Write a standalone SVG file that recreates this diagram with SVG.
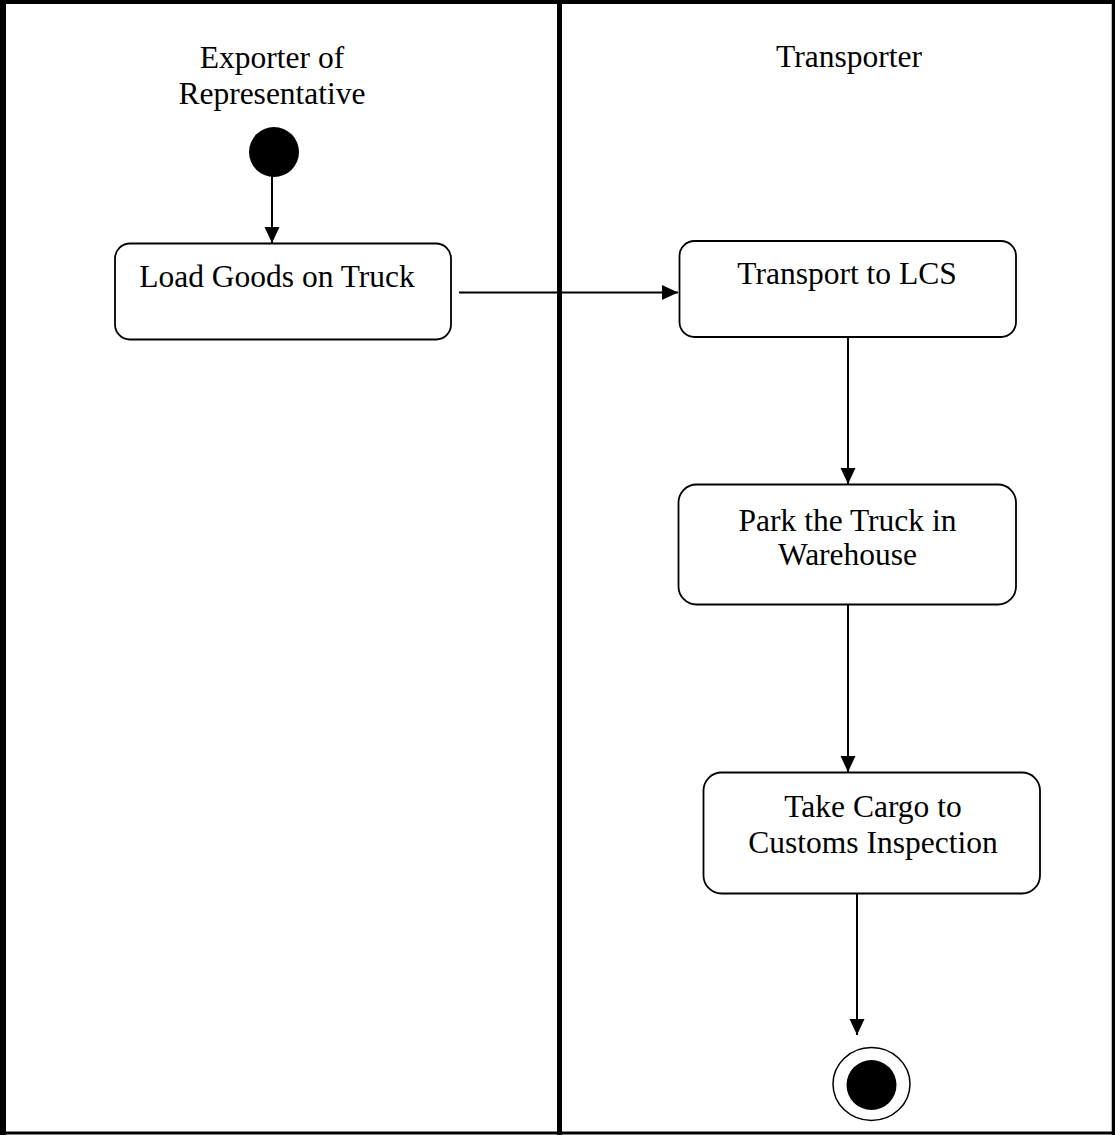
<svg xmlns="http://www.w3.org/2000/svg" width="1115" height="1135" viewBox="0 0 1115 1135">
  <style>
    .lane { stroke: #000; fill: none; }
    .box { fill: #fff; stroke: #000; stroke-width: 1.8; }
    .label { font-family: "Liberation Serif", "Times New Roman", serif; font-size: 31.5px; fill: #000; text-anchor: middle; }
    .flow { stroke: #000; stroke-width: 2; fill: none; marker-end: url(#arrow); }
  </style>
  <defs>
    <marker id="arrow" markerUnits="userSpaceOnUse" markerWidth="16" markerHeight="16" viewBox="0 0 16 16" refX="16" refY="8" orient="auto">
      <path d="M0,0.5 L16,8 L0,15.5 Z" fill="#000"/>
    </marker>
  </defs>

  <rect width="1115" height="1135" fill="#fff"/>

  <!-- swimlane frame -->
  <g id="lanes">
    <line class="lane" x1="0" y1="2" x2="1115" y2="2" stroke-width="4"/>
    <line class="lane" x1="3" y1="0" x2="3" y2="1135" stroke-width="6"/>
    <line class="lane" x1="1113.5" y1="0" x2="1113.5" y2="1135" stroke-width="3.5"/>
    <line class="lane" x1="0" y1="1133" x2="1115" y2="1133" stroke-width="3"/>
    <line class="lane" x1="559.5" y1="0" x2="559.5" y2="1135" stroke-width="5"/>
    <text class="label" x="272" y="68">Exporter of</text>
    <text class="label" x="272" y="104">Representative</text>
    <text class="label" x="849" y="67">Transporter</text>
  </g>

  <!-- connectors -->
  <g id="connectors">
    <line class="flow" x1="272" y1="176" x2="272" y2="243"/>
    <line class="flow" x1="459" y1="292.5" x2="678" y2="292.5"/>
    <line class="flow" x1="848" y1="338" x2="848" y2="484"/>
    <line class="flow" x1="848" y1="605" x2="848" y2="772"/>
    <line class="flow" x1="857" y1="894" x2="857" y2="1035"/>
  </g>

  <g id="start">
    <circle cx="274" cy="152" r="25" fill="#000"/>
  </g>

  <g id="load-goods">
    <rect class="box" x="115" y="243.5" width="336" height="96" rx="15"/>
    <text class="label" x="277" y="287">Load Goods on Truck</text>
  </g>

  <g id="transport-lcs">
    <rect class="box" x="679.5" y="241" width="336.5" height="96" rx="15"/>
    <text class="label" x="847" y="284">Transport to LCS</text>
  </g>

  <g id="park-truck">
    <rect class="box" x="678.5" y="484.5" width="337.5" height="120" rx="18"/>
    <text class="label" x="847.5" y="531">Park the Truck in</text>
    <text class="label" x="847.5" y="565">Warehouse</text>
  </g>

  <g id="customs-inspection">
    <rect class="box" x="703.5" y="772.5" width="336.5" height="121" rx="18"/>
    <text class="label" x="873" y="817">Take Cargo to</text>
    <text class="label" x="873" y="853">Customs Inspection</text>
  </g>

  <g id="end">
    <ellipse cx="871.5" cy="1084" rx="38.5" ry="36.5" fill="#fff" stroke="#000" stroke-width="1.5"/>
    <circle cx="871.5" cy="1085" r="25" fill="#000"/>
  </g>
</svg>
